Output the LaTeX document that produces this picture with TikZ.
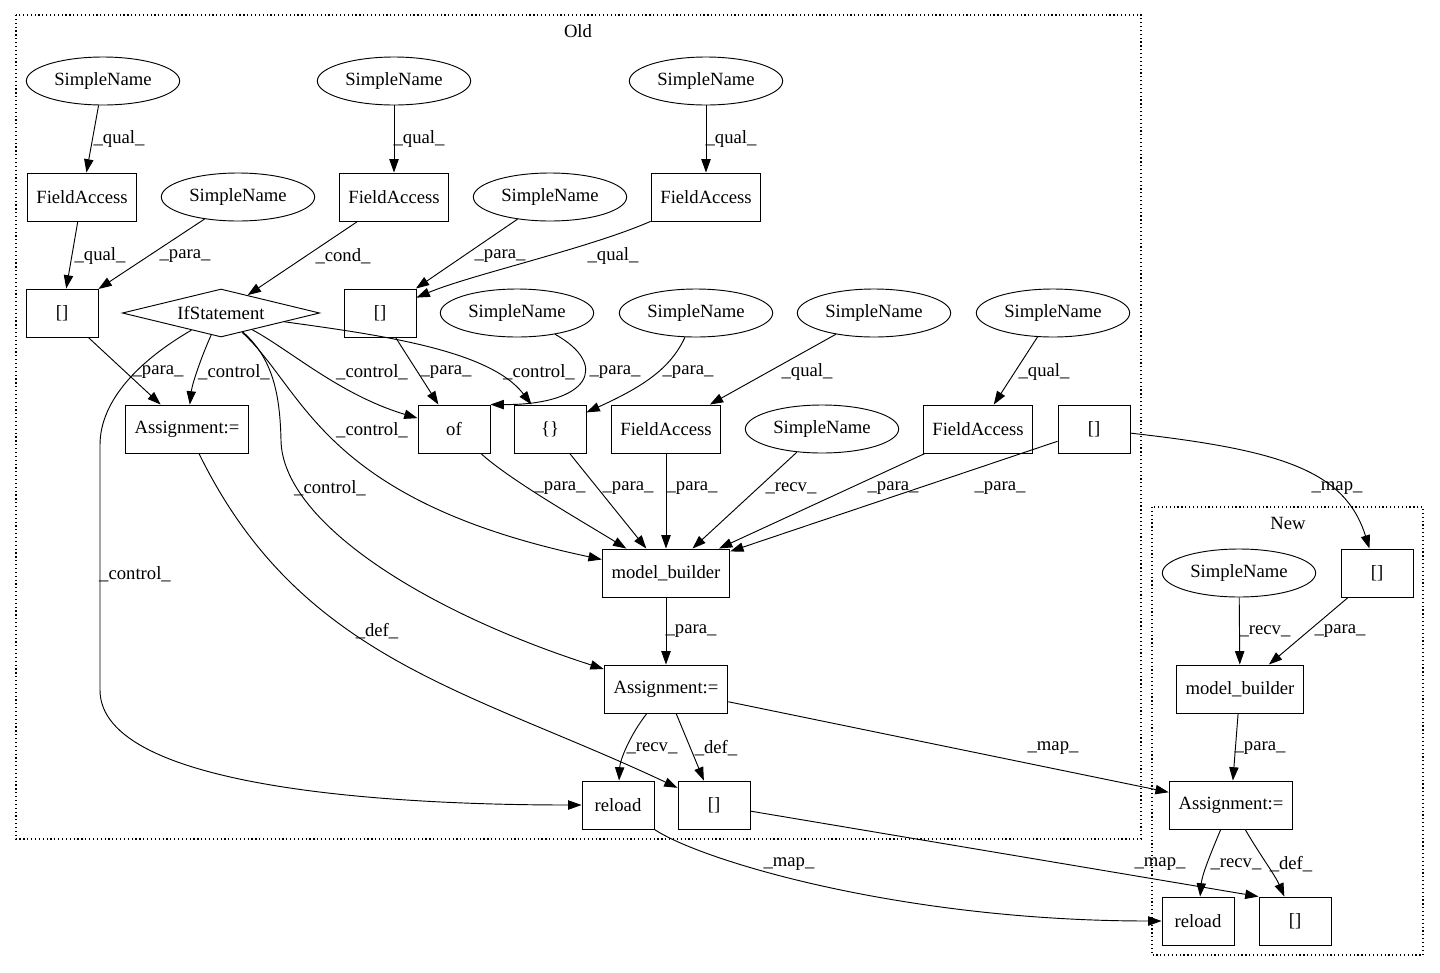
\documentclass[tikz,border=0pt]{standalone}
\usepackage{fontspec}
\setmainfont{Liberation Serif}
\usetikzlibrary{arrows.meta,shapes.geometric}

\begin{document}
\begin{tikzpicture}[x=0.75pt,y=-0.75pt,font=\fontsize{14}{16}\selectfont,
  box/.style={draw,line width=0.7pt,rectangle,minimum width=54pt,minimum height=36pt,inner xsep=7pt},
  sname/.style={draw,line width=0.7pt,ellipse,minimum width=115pt,minimum height=36pt,inner sep=0pt},
  cond/.style={draw,line width=0.7pt,diamond,aspect=4,minimum width=148pt,minimum height=36pt,inner sep=0pt},
  lbl/.style={inner sep=0pt},
  edge/.style={line width=0.7pt,-{Triangle[length=10pt,width=7pt]}},
  clust/.style={draw,dotted,line width=0.9pt}]
\useasboundingbox (0,0) rectangle (1440,972);

% clusters
\draw[clust] (16,15) rectangle (1141,839);
\draw[clust] (1152,507) rectangle (1423,955);
\node (old) at (578,31) {Old};
\node (new) at (1288,523) {New};

% Old
\node[sname] (sn1) at (103,81) {SimpleName};
\node[sname] (sn2) at (394,81) {SimpleName};
\node[sname] (sn3) at (706,81) {SimpleName};
\node[box] (fa1) at (82,197) {FieldAccess};
\node[sname] (sn4) at (238,197) {SimpleName};
\node[box] (fa2) at (394,197) {FieldAccess};
\node[sname] (sn5) at (550,197) {SimpleName};
\node[box] (fa3) at (706,197) {FieldAccess};
\node[box] (arr1) at (62,313) {[]};
\node[cond] (ifst) at (221,313) {IfStatement};
\node[box] (arr2) at (380,313) {[]};
\node[sname] (sn6) at (517,313) {SimpleName};
\node[sname] (sn7) at (696,313) {SimpleName};
\node[sname] (sn8) at (874,313) {SimpleName};
\node[sname] (sn9) at (1053,313) {SimpleName};
\node[box] (asg1) at (187,429) {Assignment:=};
\node[box] (of) at (454,429) {of};
\node[box] (brace) at (550,429) {\{\}};
\node[box] (fa4) at (666,429) {FieldAccess};
\node[sname] (sn10) at (822,429) {SimpleName};
\node[box] (fa5) at (978,429) {FieldAccess};
\node[box] (arr3) at (1094,429) {[]};
\node[box] (mb1) at (666,573) {model\_builder};
\node[box] (asg2) at (666,689) {Assignment:=};
\node[box] (rl1) at (618,805) {reload};
\node[box] (arr4) at (714,805) {[]};

% New
\node[sname] (sn11) at (1239,573) {SimpleName};
\node[box] (arr5) at (1377,573) {[]};
\node[box] (mb2) at (1240,689) {model\_builder};
\node[box] (asg3) at (1231,805) {Assignment:=};
\node[box] (rl2) at (1198,921) {reload};
\node[box] (arr6) at (1295,921) {[]};

\draw[edge] (sn1) -- (fa1) node[lbl] (e1) at (119,139) {\_qual\_};
\draw[edge] (sn2) -- (fa2) node[lbl] (e2) at (419,139) {\_qual\_};
\draw[edge] (sn3) -- (fa3) node[lbl] (e3) at (731,139) {\_qual\_};
\draw[edge] (fa1) -- (arr1) node[lbl] (e4) at (100,256) {\_qual\_};
\draw[edge] (sn4) -- (arr1) node[lbl] (e5) at (185,256) {\_para\_};
\draw[edge] (fa2) -- (ifst) node[lbl] (e6) at (343,256) {\_cond\_};
\draw[edge] (sn5) -- (arr2) node[lbl] (e7) at (500,256) {\_para\_};
\draw[edge] (fa3) .. controls (590,248) and (470,275) .. (arr2) node[lbl] (e8) at (613,256) {\_qual\_};
\draw[edge] (arr1) -- (asg1) node[lbl] (e9) at (158,372) {\_para\_};
\draw[edge] (ifst) .. controls (200,360) and (192,385) .. (asg1) node[lbl] (e10) at (234,372) {\_control\_};
\draw[edge] (ifst) .. controls (290,350) and (340,395) .. (of) node[lbl] (e11) at (372,372) {\_control\_};
\draw[edge] (ifst) .. controls (380,335) and (490,350) .. (brace) node[lbl] (e12) at (539,372) {\_control\_};
\draw[edge] (arr2) -- (of) node[lbl] (e13) at (446,372) {\_para\_};
\draw[edge] (sn6) .. controls (610,365) and (590,405) .. (of.north east) node[lbl] (e14) at (615,372) {\_para\_};
\draw[edge] (sn7) .. controls (670,370) and (640,388) .. (brace) node[lbl] (e15) at (688,372) {\_para\_};
\draw[edge] (sn8) -- (fa4) node[lbl] (e16) at (807,372) {\_qual\_};
\draw[edge] (sn9) -- (fa5) node[lbl] (e17) at (1044,372) {\_qual\_};
\draw[edge] (ifst) .. controls (305,390) and (320,500) .. (mb1) node[lbl] (e18) at (372,430) {\_control\_};
\draw[edge] (ifst) .. controls (275,360) and (280,400) .. (281,440) .. controls (282,520) and (420,610) .. (asg2) node[lbl] (e19) at (330,488) {\_control\_};
\draw[edge] (ifst) .. controls (140,360) and (100,400) .. (100,445) -- (100,690) .. controls (100,790) and (400,805) .. (rl1) node[lbl] (e20) at (135,574) {\_control\_};
\draw[edge] (asg1) .. controls (300,660) and (470,690) .. (arr4) node[lbl] (e21) at (377,631) {\_def\_};
\draw[edge] (of) .. controls (510,480) and (580,520) .. (mb1) node[lbl] (e22) at (560,488) {\_para\_};
\draw[edge] (brace) -- (mb1) node[lbl] (e23) at (628,488) {\_para\_};
\draw[edge] (fa4) -- (mb1) node[lbl] (e24) at (692,488) {\_para\_};
\draw[edge] (sn10) -- (mb1) node[lbl] (e25) at (791,488) {\_recv\_};
\draw[edge] (fa5) -- (mb1) node[lbl] (e26) at (893,488) {\_para\_};
\draw[edge] (arr3) -- (mb1) node[lbl] (e27) at (1000,488) {\_para\_};
\draw[edge] (mb1) -- (asg2) node[lbl] (e28) at (691,631) {\_para\_};
\draw[edge] (asg2) .. controls (630,735) and (620,760) .. (rl1) node[lbl] (e29) at (652,748) {\_recv\_};
\draw[edge] (asg2) -- (arr4) node[lbl] (e30) at (716,748) {\_def\_};

% map
\draw[edge] (arr3) .. controls (1280,450) and (1345,470) .. (arr5) node[lbl] (e31) at (1337,488) {\_map\_};
\draw[edge] (asg2) -- (asg3) node[lbl] (e32) at (1053,748) {\_map\_};
\draw[edge] (rl1) .. controls (700,860) and (900,921) .. (rl2) node[lbl] (e33) at (789,864) {\_map\_};
\draw[edge] (arr4) -- (arr6.north west) node[lbl] (e34) at (1160,864) {\_map\_};

\draw[edge] (sn11) -- (mb2) node[lbl] (e35) at (1265,631) {\_recv\_};
\draw[edge] (arr5) -- (mb2) node[lbl] (e36) at (1340,631) {\_para\_};
\draw[edge] (mb2) -- (asg3) node[lbl] (e37) at (1260,748) {\_para\_};
\draw[edge] (asg3) .. controls (1210,855) and (1202,875) .. (rl2) node[lbl] (e38) at (1236,864) {\_recv\_};
\draw[edge] (asg3) .. controls (1260,855) and (1275,875) .. (arr6) node[lbl] (e39) at (1291,864) {\_def\_};
\end{tikzpicture}
\end{document}
